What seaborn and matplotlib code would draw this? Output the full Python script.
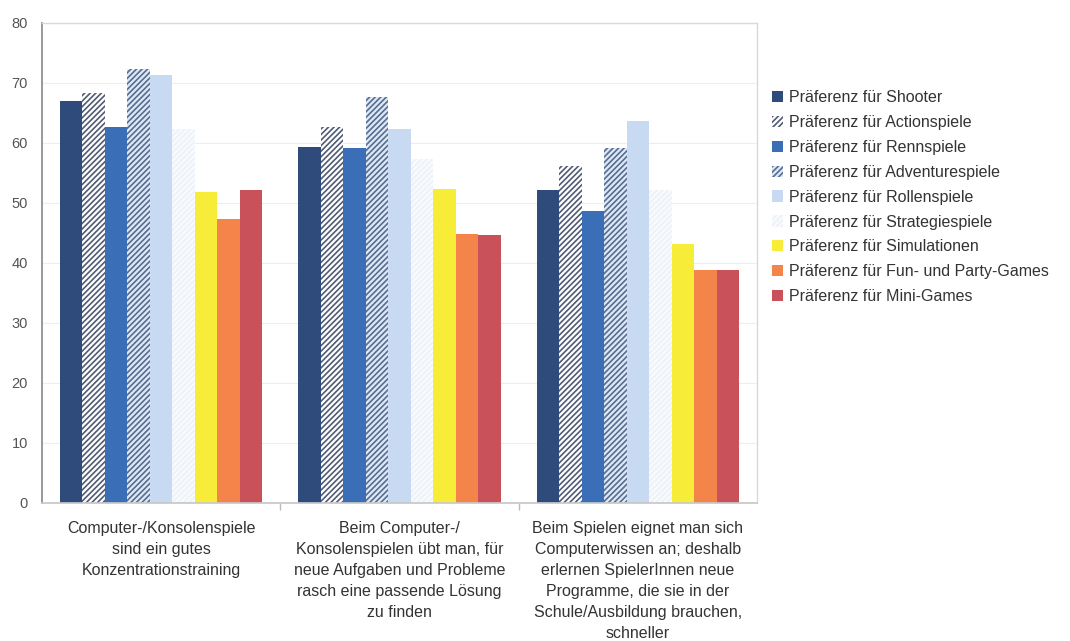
import matplotlib
matplotlib.use("Agg")
import matplotlib.pyplot as plt
import seaborn as sns
import pandas as pd
from matplotlib.ticker import FixedLocator

# Statements (x categories)
statements = [
    "Computer-/Konsolenspiele\nsind ein gutes\nKonzentrationstraining",
    "Beim Computer-/\nKonsolenspielen übt man, für\nneue Aufgaben und Probleme\nrasch eine passende Lösung\nzu finden",
    "Beim Spielen eignet man sich\nComputerwissen an; deshalb\nerlernen SpielerInnen neue\nProgramme, die sie in der\nSchule/Ausbildung brauchen,\nschneller",
]

# Preference groups (hue levels)
genres = [
    "Präferenz für Shooter",
    "Präferenz für Actionspiele",
    "Präferenz für Rennspiele",
    "Präferenz für Adventurespiele",
    "Präferenz für Rollenspiele",
    "Präferenz für Strategiespiele",
    "Präferenz für Simulationen",
    "Präferenz für Fun- und Party-Games",
    "Präferenz für Mini-Games",
]

# Agreement in percent, one list per preference group (statement 1, 2, 3)
shooter = [67.0, 59.4, 52.2]
action = [68.4, 62.6, 56.1]
renn = [62.6, 59.2, 48.7]
adventure = [72.3, 67.6, 59.2]
rollen = [71.3, 62.3, 63.6]
strategie = [62.4, 57.3, 52.2]
simulation = [51.9, 52.4, 43.2]
fun_party = [47.3, 44.8, 38.8]
mini = [52.2, 44.6, 38.8]

series = [shooter, action, renn, adventure, rollen, strategie,
          simulation, fun_party, mini]

y_ticks = [0, 10, 20, 30, 40, 50, 60, 70, 80]

rows = []
for g, vals in zip(genres, series):
    for s, v in zip(statements, vals):
        rows.append({"Aussage": s, "Gruppe": g, "Wert": v})
df = pd.DataFrame(rows)

facecolors = ["#2F4B7C", "#FFFFFF", "#3A6FB8", "#DCE9F7", "#C7DAF1",
              "#EEF3FA", "#F7EC38", "#F5844A", "#C9525A"]
hatches = [None, "//////", None, "//////", None, "//////", None, None, None]
hatchcolors = [None, "#505C74", None, "#5A6C8E", None, "#FBFCFE",
               None, None, None]

sns.set_theme(style="white")
plt.rcParams["font.family"] = ["Liberation Sans", "DejaVu Sans"]
plt.rcParams["hatch.linewidth"] = 1.2

fig = plt.figure(figsize=(10.70, 6.41), dpi=100)
ax = fig.add_axes([42 / 1070, 1 - 503 / 641, 715 / 1070, 480 / 641])

sns.barplot(data=df, x="Aussage", y="Wert", hue="Gruppe",
            hue_order=genres, order=statements, palette=facecolors,
            width=0.85, gap=0, saturation=1, errorbar=None, ax=ax,
            legend=False)

for cont, fc, h, hc in zip(ax.containers, facecolors, hatches, hatchcolors):
    for p in cont.patches:
        p.set_facecolor(fc)
        p.set_linewidth(0)
        if h:
            p.set_hatch(h)
            p.set_edgecolor(hc)

ax.set_xlim(-0.5, 2.5)
ax.set_ylim(0, 80)
ax.set_yticks(y_ticks)
ax.set_xlabel("")
ax.set_ylabel("")

ax.yaxis.grid(True, color="#EDEDED", linewidth=0.8)
ax.set_axisbelow(True)

for side in ["top", "right"]:
    ax.spines[side].set_color("#D9D9D9")
    ax.spines[side].set_linewidth(1.0)
ax.spines["left"].set_color("#8C8C8C")
ax.spines["bottom"].set_color("#C8C8C8")
for side in ax.spines:
    ax.spines[side].set_visible(True)

ax.tick_params(axis="y", labelsize=10.5, colors="#555555", length=0, pad=10)
ax.tick_params(axis="x", which="major", length=0, pad=13,
               labelsize=11.5, colors="#333333")
ax.xaxis.set_minor_locator(FixedLocator([0.5, 1.5]))
ax.tick_params(axis="x", which="minor", length=5, color="#BBBBBB",
               direction="out", bottom=True)
for lab in ax.get_xticklabels():
    lab.set_linespacing(1.5)

handles = [c.patches[0] for c in ax.containers]
leg = fig.legend(handles, genres, loc="upper left",
                 bbox_to_anchor=(772 / 1070, 1 - 90 / 641),
                 frameon=False, fontsize=11.5, handlelength=0.7,
                 handleheight=0.7, handletextpad=0.35, labelspacing=0.62,
                 borderaxespad=0, borderpad=0)
for t in leg.get_texts():
    t.set_color("#333333")

fig.savefig("out.png", dpi=100)
